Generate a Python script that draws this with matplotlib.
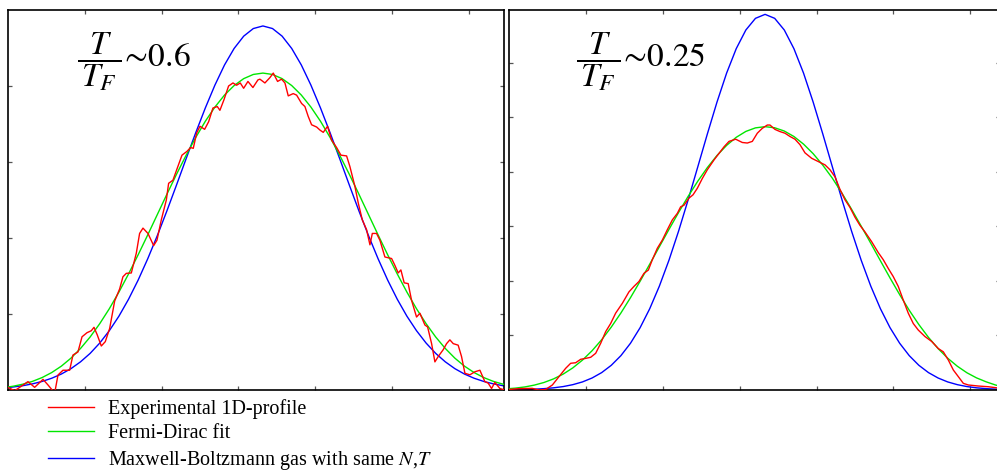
import matplotlib
matplotlib.use("Agg")
import matplotlib.pyplot as plt
from matplotlib.lines import Line2D

plt.rcParams['font.family'] = ['Liberation Serif', 'DejaVu Serif']
plt.rcParams['mathtext.fontset'] = 'stix'

# ---------------- data (arbitrary units) ----------------
# Left panel: T/T_F ~ 0.6
left_x_fit = [-0.18, -0.055, 0.07, 0.195, 0.32, 0.445, 0.57, 0.695, 0.82, 0.945,
              1.07, 1.195, 1.32, 1.445, 1.57, 1.695, 1.82, 1.945, 2.07, 2.195,
              2.32, 2.445, 2.57, 2.695, 2.82, 2.945, 3.07, 3.195, 3.32,
              3.445, 3.57, 3.695, 3.82, 3.945, 4.07, 4.195, 4.32, 4.445, 4.57,
              4.695, 4.82, 4.945, 5.07, 5.195, 5.32, 5.445, 5.57, 5.695, 5.82,
              5.945, 6.07, 6.195, 6.32, 6.445, 6.57, 6.695, 6.82]
left_mb = [0.018, 0.027, 0.040, 0.057, 0.081, 0.113, 0.155, 0.210, 0.281, 0.371,
           0.482, 0.618, 0.781, 0.972, 1.194, 1.446, 1.727, 2.032, 2.358, 2.698,
           3.044, 3.385, 3.711, 4.012, 4.277, 4.494, 4.656, 4.756, 4.79,
           4.756, 4.656, 4.494, 4.277, 4.012, 3.711, 3.385, 3.044, 2.698, 2.358,
           2.032, 1.727, 1.446, 1.194, 0.972, 0.781, 0.618, 0.482, 0.371, 0.281,
           0.210, 0.155, 0.113, 0.081, 0.057, 0.040, 0.027, 0.018]
left_fd = [0.020, 0.032, 0.050, 0.077, 0.114, 0.164, 0.230, 0.314, 0.419, 0.547,
           0.698, 0.873, 1.070, 1.289, 1.527, 1.779, 2.041, 2.309, 2.577, 2.839,
           3.089, 3.323, 3.536, 3.723, 3.881, 4.006, 4.097, 4.152, 4.17,
           4.152, 4.097, 4.006, 3.881, 3.723, 3.536, 3.323, 3.089, 2.839, 2.577,
           2.309, 2.041, 1.779, 1.527, 1.289, 1.070, 0.873, 0.698, 0.547, 0.419,
           0.314, 0.230, 0.164, 0.114, 0.077, 0.050, 0.032, 0.020]
left_exp_x = [0, 0.087, 0.26, 0.347, 0.456, 0.521, 0.608, 0.651, 0.716, 0.803,
              0.846, 0.911, 0.964, 1.029, 1.085, 1.12, 1.163, 1.215, 1.267, 1.324,
              1.389, 1.454, 1.497, 1.541, 1.606, 1.671, 1.714, 1.758, 1.823, 1.897,
              1.94, 1.997, 2.062, 2.092, 2.148, 2.205, 2.266, 2.331, 2.378, 2.413,
              2.457, 2.50, 2.561, 2.613, 2.669, 2.726, 2.76, 2.813, 2.873, 2.93,
              2.977, 3.025, 3.069, 3.125, 3.19, 3.255, 3.281, 3.346, 3.411, 3.455,
              3.511, 3.563, 3.607, 3.65, 3.715, 3.759, 3.824, 3.867, 3.91, 3.954,
              4.02, 4.063, 4.106, 4.162, 4.214, 4.28, 4.336, 4.41, 4.453, 4.518,
              4.562, 4.614, 4.67, 4.714, 4.745, 4.80, 4.844, 4.909, 4.996, 5.039,
              5.082, 5.117, 5.16, 5.212, 5.256, 5.321, 5.365, 5.43, 5.465, 5.517,
              5.56, 5.603, 5.668, 5.712, 5.755, 5.799, 5.863, 5.907, 5.951, 6.016,
              6.081, 6.146, 6.211, 6.254, 6.298, 6.341, 6.406, 6.47]
left_exp_y = [0.035, -0.01, 0.11, 0.035, 0.14, 0.066, -0.04, 0.197, 0.26, 0.26,
              0.46, 0.50, 0.70, 0.754, 0.78, 0.825, 0.724, 0.579, 0.636, 0.81,
              1.17, 1.33, 1.49, 1.535, 1.54, 1.80, 2.06, 2.13, 2.06, 1.90,
              1.97, 2.24, 2.50, 2.72, 2.76, 2.92, 3.09, 3.14, 3.19, 3.18,
              3.38, 3.47, 3.43, 3.53, 3.71, 3.73, 3.68, 3.82, 4.00, 4.04,
              4.01, 4.04, 3.97, 4.06, 3.98, 4.08, 4.09, 4.04, 4.11, 4.17,
              4.06, 4.09, 4.04, 3.87, 3.90, 3.88, 3.77, 3.73, 3.60, 3.49,
              3.46, 3.42, 3.39, 3.47, 3.29, 3.19, 3.09, 3.08, 2.94, 2.68,
              2.46, 2.24, 2.11, 1.91, 2.06, 2.06, 1.97, 1.75, 1.73, 1.64,
              1.54, 1.58, 1.41, 1.40, 1.18, 0.96, 1.01, 0.855, 0.83, 0.61,
              0.37, 0.44, 0.53, 0.61, 0.66, 0.61, 0.59, 0.44, 0.22, 0.20,
              0.24, 0.26, 0.11, 0.09, 0.02, 0.10, 0.02, 0.0]

# Right panel: T/T_F ~ 0.25
right_x_fit = [-0.17, -0.045, 0.08, 0.205, 0.33, 0.455, 0.58, 0.705, 0.83, 0.955,
               1.08, 1.205, 1.33, 1.455, 1.58, 1.705, 1.83, 1.955, 2.08, 2.205,
               2.33, 2.455, 2.58, 2.705, 2.83, 2.955, 3.08, 3.205, 3.33,
               3.455, 3.58, 3.705, 3.83, 3.955, 4.08, 4.205, 4.33, 4.455, 4.58,
               4.705, 4.83, 4.955, 5.08, 5.205, 5.33, 5.455, 5.58, 5.705, 5.83,
               5.955, 6.08, 6.205, 6.33, 6.455, 6.58, 6.705, 6.83]
right_mb = [0.0015, 0.003, 0.005, 0.009, 0.015, 0.025, 0.040, 0.063, 0.098, 0.148,
            0.220, 0.319, 0.453, 0.630, 0.858, 1.143, 1.491, 1.904, 2.380, 2.913,
            3.490, 4.093, 4.699, 5.282, 5.813, 6.261, 6.603, 6.817, 6.89,
            6.817, 6.603, 6.261, 5.813, 5.282, 4.699, 4.093, 3.490, 2.913, 2.380,
            1.904, 1.491, 1.143, 0.858, 0.630, 0.453, 0.319, 0.220, 0.148, 0.098,
            0.063, 0.040, 0.025, 0.015, 0.009, 0.005, 0.003, 0.0015]
right_fd = [0.011, 0.020, 0.034, 0.056, 0.090, 0.138, 0.204, 0.292, 0.406, 0.548,
            0.720, 0.922, 1.154, 1.412, 1.694, 1.995, 2.308, 2.627, 2.945, 3.256,
            3.553, 3.830, 4.081, 4.302, 4.487, 4.635, 4.743, 4.808, 4.83,
            4.810, 4.750, 4.650, 4.510, 4.335, 4.125, 3.885, 3.610, 3.315, 3.005,
            2.690, 2.370, 2.055, 1.750, 1.462, 1.200, 0.965, 0.760, 0.583, 0.436,
            0.316, 0.222, 0.150, 0.090, 0.056, 0.034, 0.020, 0.011]
right_exp_x = [0, 0.130, 0.303, 0.39, 0.477, 0.564, 0.650, 0.737, 0.802, 0.867,
               0.932, 0.997, 1.062, 1.127, 1.192, 1.257, 1.322, 1.387, 1.474, 1.560,
               1.625, 1.690, 1.755, 1.812, 1.864, 1.929, 1.994, 2.059, 2.124, 2.189,
               2.232, 2.276, 2.341, 2.393, 2.449, 2.514, 2.579, 2.666, 2.731, 2.796,
               2.861, 2.948, 3.034, 3.099, 3.164, 3.229, 3.294, 3.359, 3.394, 3.459,
               3.524, 3.589, 3.654, 3.719, 3.784, 3.849, 3.936, 4.022, 4.109, 4.174,
               4.239, 4.304, 4.369, 4.434, 4.499, 4.564, 4.629, 4.716, 4.802, 4.867,
               4.932, 4.997, 5.062, 5.127, 5.192, 5.257, 5.322, 5.41, 5.497, 5.583,
               5.648, 5.713, 5.778, 5.843, 5.908, 5.973, 6.103, 6.233, 6.342]
right_exp_y = [0.01, 0.025, 0.03, 0.0, 0.01, 0.092, 0.245, 0.398, 0.49, 0.50,
               0.563, 0.58, 0.60, 0.673, 0.856, 1.07, 1.22, 1.41, 1.59, 1.80,
               1.90, 1.99, 2.14, 2.20, 2.39, 2.60, 2.75, 2.94, 3.12, 3.24,
               3.36, 3.39, 3.52, 3.58, 3.70, 3.88, 4.04, 4.22, 4.34, 4.46,
               4.56, 4.60, 4.54, 4.53, 4.56, 4.71, 4.80, 4.86, 4.86, 4.78,
               4.74, 4.71, 4.65, 4.60, 4.50, 4.35, 4.25, 4.19, 4.13, 4.04,
               3.91, 3.68, 3.49, 3.35, 3.17, 3.02, 2.90, 2.72, 2.52, 2.39,
               2.23, 2.08, 1.90, 1.65, 1.41, 1.22, 1.10, 0.98, 0.89, 0.76,
               0.70, 0.55, 0.367, 0.245, 0.122, 0.092, 0.073, 0.06, 0.04]

panel_labels = [r'$\dfrac{T}{\,T_F\,}\!\sim\!0.6$', r'$\dfrac{T}{\,T_F\,}\!\sim\!0.25$']
legend_labels = ['Experimental 1D-profile', 'Fermi-Dirac fit',
                 'Maxwell-Boltzmann gas with same $N$,$T$']
x_ticks = [1, 2, 3, 4, 5, 6]
left_y_ticks = [1, 2, 3, 4]
right_y_ticks = [1, 2, 3, 4, 5, 6]

# ---------------- drawing ----------------
W, H = 997, 471
fig = plt.figure(figsize=(W / 100, H / 100), dpi=100)

RED, GREEN, BLUE = '#ff0000', '#00e600', '#0000ff'
LW = 1.0

axL = fig.add_axes([8 / W, 1 - 390 / H, 496 / W, 380 / H])
axR = fig.add_axes([509 / W, 1 - 390 / H, 491 / W, 380 / H])

panels = [
    (axL, left_x_fit, left_mb, left_fd, left_exp_x, left_exp_y, (0, 6.46), (0, 5.0), left_y_ticks),
    (axR, right_x_fit, right_mb, right_fd, right_exp_x, right_exp_y, (0, 6.385), (0, 6.97), right_y_ticks),
]
for ax, xf, mb, fd, ex, ey, xl, yl, yt in panels:
    ax.plot(xf, mb, color=BLUE, lw=LW, zorder=2)
    ax.plot(xf, fd, color=GREEN, lw=LW, zorder=3)
    ax.plot(ex, ey, color=RED, lw=LW, zorder=4)
    ax.set_xlim(*xl)
    ax.set_ylim(*yl)
    ax.set_xticks(x_ticks)
    ax.set_yticks(yt)
    ax.tick_params(direction='in', length=3, width=0.9, color='#555555',
                   top=True, right=True, labelbottom=False, labelleft=False)
    for s in ax.spines.values():
        s.set_linewidth(1.2)
        s.set_color('black')

fig.text(77 / W, 1 - 62 / H, panel_labels[0], fontsize=24, ha='left', va='center')
fig.text(576 / W, 1 - 62 / H, panel_labels[1], fontsize=24, ha='left', va='center')

handles = [Line2D([], [], color=RED, lw=LW),
           Line2D([], [], color=GREEN, lw=LW),
           Line2D([], [], color=BLUE, lw=LW)]
fig.legend(handles, legend_labels, loc='upper left',
           bbox_to_anchor=(48 / W, 1 - 399 / H), frameon=False,
           fontsize=14.5, handlelength=2.3, handletextpad=0.7,
           labelspacing=0.27, borderpad=0, borderaxespad=0)

fig.savefig('out.png', dpi=100)
